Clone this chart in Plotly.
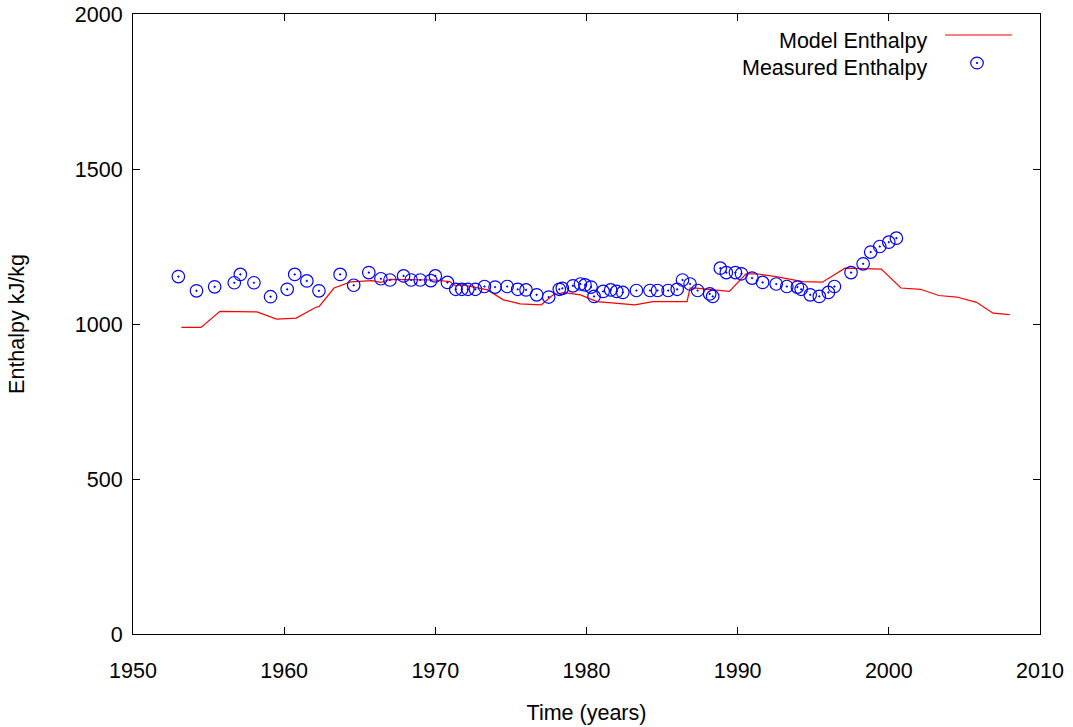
import plotly.graph_objects as go

# ---- data ----
model_years = [1953.2, 1954.5, 1955.75, 1958.2, 1959.5, 1960.8, 1962.1, 1962.3, 1963.3, 1964.4,
               1965.8, 1966.4, 1967.0, 1968.05, 1969.95, 1970.95, 1971.35, 1971.75, 1973.45, 1974.5,
               1975.6, 1977.0, 1977.8, 1978.5, 1979.6, 1980.7, 1981.6, 1983.2, 1984.4, 1986.65,
               1986.85, 1987.25, 1989.45, 1990.55, 1991.25, 1992.55, 1994.3, 1995.6, 1997.1, 1999.5,
               2000.8, 2002.1, 2003.3, 2004.5, 2005.8, 2006.9, 2008.0]
model_values = [989, 989, 1041, 1039, 1016, 1019, 1054, 1056, 1116, 1136,
                1140, 1134, 1144, 1144, 1142, 1137, 1123, 1127, 1110, 1078,
                1065, 1062, 1094, 1101, 1094, 1072, 1069, 1062, 1072, 1072,
                1116, 1116, 1105, 1162, 1162, 1153, 1137, 1135, 1180, 1177,
                1116, 1112, 1092, 1087, 1070, 1035, 1030]

meas_years = [1953.0, 1954.2, 1955.4, 1956.7, 1957.1, 1958.0, 1959.1, 1960.2, 1960.7, 1961.5,
              1962.3, 1963.7, 1964.6, 1965.6, 1966.4, 1967.0, 1967.9, 1968.4, 1969.0, 1969.7,
              1970.0, 1970.8, 1971.35, 1971.75, 1972.15, 1972.65, 1973.25, 1973.95, 1974.75, 1975.45,
              1976.0, 1976.7, 1977.5, 1978.2, 1978.4, 1979.1, 1979.6, 1979.9, 1980.3, 1980.5,
              1981.1, 1981.6, 1982.0, 1982.4, 1983.3, 1984.2, 1984.7, 1985.4, 1986.0, 1986.35,
              1986.85, 1987.35, 1988.15, 1988.35, 1988.85, 1989.25, 1989.85, 1990.25, 1990.95, 1991.65,
              1992.55, 1993.25, 1993.95, 1994.2, 1994.8, 1995.4, 1996.0, 1996.4, 1997.5, 1998.3,
              1998.8, 1999.4, 2000.0, 2000.5]
meas_values = [1153, 1107, 1120, 1133, 1160, 1133, 1088, 1112, 1160, 1139,
               1107, 1160, 1125, 1166, 1146, 1142, 1155, 1142, 1142, 1140,
               1155, 1134, 1112, 1112, 1112, 1112, 1121, 1119, 1121, 1112,
               1110, 1094, 1087, 1112, 1115, 1123, 1129, 1126, 1119, 1089,
               1105, 1110, 1105, 1102, 1108, 1108, 1108, 1108, 1112, 1142,
               1129, 1108, 1097, 1089, 1180, 1166, 1166, 1162, 1148, 1134,
               1129, 1121, 1119, 1112, 1094, 1089, 1102, 1121, 1166, 1194,
               1232, 1250, 1264, 1277]

x_ticks = [1950, 1960, 1970, 1980, 1990, 2000, 2010]
y_ticks = [0, 500, 1000, 1500, 2000]

model_name = "Model Enthalpy"
meas_name = "Measured Enthalpy"
RED = "#ff0000"
BLUE = "#0000ff"
FONT = "Liberation Sans, Arial, Helvetica, sans-serif"
FS = 21.5

fig = go.Figure()
fig.add_trace(go.Scatter(x=model_years, y=model_values, mode="lines", name=model_name,
                         line=dict(color=RED, width=1.2), showlegend=False))
fig.add_trace(go.Scatter(x=meas_years, y=meas_values, mode="markers", name=meas_name,
                         marker=dict(symbol="circle-open-dot", size=12.5, color=BLUE,
                                     line=dict(width=1.2, color=BLUE)),
                         showlegend=False))

W, H = 1073, 727
L, T = 133, 14
pw, ph = 907, 620
R = W - L - pw
B = H - T - ph
FX0, FY1 = L, T + ph  # frame position on the page (body margin removed below)

def px_x(p):
    return (p - FX0) / pw

def px_y(p):
    return (FY1 - p) / ph

# gnuplot-style key (text on the left, sample on the right)
fig.add_annotation(x=px_x(929), y=px_y(41), xref="paper", yref="paper", text=model_name,
                   showarrow=False, xanchor="right", yanchor="middle",
                   font=dict(family=FONT, size=FS, color="black"))
fig.add_annotation(x=px_x(929), y=px_y(68), xref="paper", yref="paper", text=meas_name,
                   showarrow=False, xanchor="right", yanchor="middle",
                   font=dict(family=FONT, size=FS, color="black"))
fig.add_shape(type="line", xref="paper", yref="paper", x0=px_x(945), x1=px_x(1012),
              y0=px_y(35), y1=px_y(35), line=dict(color=RED, width=1.2))
fig.add_shape(type="circle", xref="paper", yref="paper", xsizemode="pixel", ysizemode="pixel",
              xanchor=px_x(977), yanchor=px_y(63), x0=-6.3, x1=6.3, y0=-5.8, y1=5.8,
              line=dict(color=BLUE, width=1.2))
fig.add_shape(type="circle", xref="paper", yref="paper", xsizemode="pixel", ysizemode="pixel",
              xanchor=px_x(977), yanchor=px_y(63), x0=-0.7, x1=0.7, y0=-0.7, y1=0.7,
              line=dict(color=BLUE, width=1), fillcolor=BLUE)

axis_common = dict(showgrid=False, zeroline=False, showline=True, linecolor="black",
                   linewidth=1, mirror="ticks", ticks="inside", ticklen=7, tickcolor="black",
                   ticklabeloverflow="allow",
                   tickfont=dict(family=FONT, size=FS, color="black"))

fig.update_xaxes(range=[1950, 2010], tickvals=x_ticks, ticktext=[str(v) for v in x_ticks],
                 ticklabelstandoff=17,
                 title=dict(text="Time (years)", font=dict(family=FONT, size=FS, color="black"),
                            standoff=23),
                 **axis_common)
fig.update_yaxes(range=[0, 2000], tickvals=y_ticks, ticktext=[str(v) for v in y_ticks],
                 ticklabelstandoff=5,
                 title=dict(text="Enthalpy kJ/kg", font=dict(family=FONT, size=FS, color="black"),
                            standoff=44),
                 **axis_common)

fig.update_layout(width=W, height=H, margin=dict(l=L, r=R, t=T, b=B, autoexpand=False),
                  plot_bgcolor="white", paper_bgcolor="white", showlegend=False,
                  font=dict(family=FONT, size=FS, color="black"))

fig.write_html("out.html", config={"displayModeBar": False},
               post_script="document.body.style.margin='0';document.body.style.overflow='hidden';")
